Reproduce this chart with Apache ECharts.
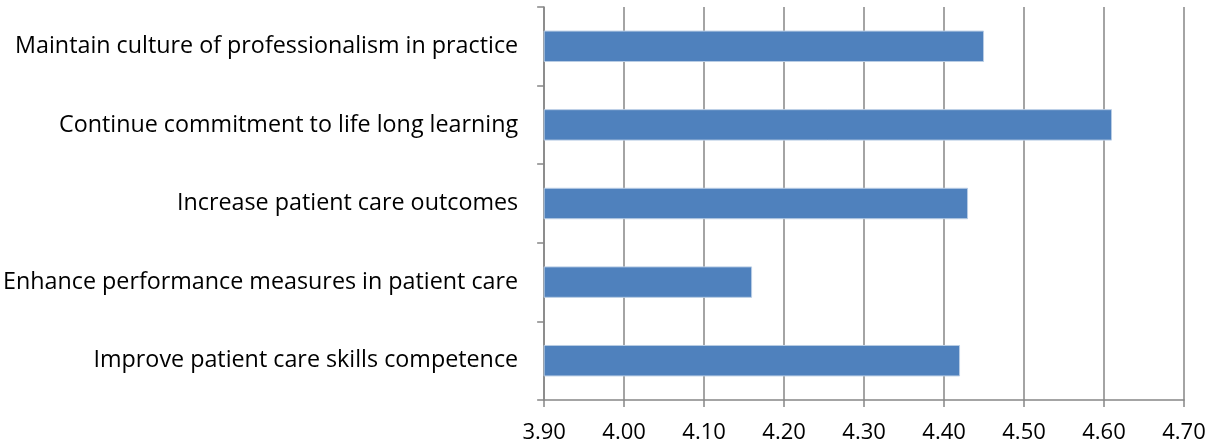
<!DOCTYPE html>
<html>
<head>
<meta charset="utf-8">
<script src="https://cdn.jsdelivr.net/npm/echarts@6/dist/echarts.min.js"></script>
<style>
  html, body { margin: 0; padding: 0; background: #ffffff; }
  #chart { width: 1215px; height: 447px; }
</style>
</head>
<body>
<div id="chart"></div>
<script>
// Goals listed top to bottom
const categories = [
  'Maintain culture of professionalism in practice',
  'Continue commitment to life long learning',
  'Increase patient care outcomes',
  'Enhance performance measures in patient care',
  'Improve patient care skills competence'
];
// Mean rating per goal
const meanScores = [4.45, 4.61, 4.43, 4.16, 4.42];
// Value axis range
const axisMin = 3.9;
const axisMax = 4.7;
const axisStep = 0.1;

const gray = '#868686';
const font = 'Open Sans';

const chart = echarts.init(document.getElementById('chart'), null, { renderer: 'canvas' });
chart.setOption({
  animation: false,
  grid: { left: 543, right: 31, top: 7, bottom: 47, containLabel: false },
  xAxis: {
    type: 'value',
    min: axisMin,
    max: axisMax,
    interval: axisStep,
    axisLine: { show: true, lineStyle: { color: gray, width: 1.5 } },
    axisTick: { show: true, length: 7, lineStyle: { color: gray, width: 1.5 } },
    splitLine: { show: true, lineStyle: { color: gray, width: 1.5 } },
    axisLabel: {
      margin: 22,
      color: '#000',
      fontFamily: font,
      fontSize: 22,
      formatter: v => v.toFixed(2)
    }
  },
  yAxis: {
    type: 'category',
    inverse: true,
    data: categories,
    axisLine: { show: true, lineStyle: { color: gray, width: 1.5 } },
    axisTick: { show: true, length: 7, lineStyle: { color: gray, width: 1.5 } },
    axisLabel: {
      margin: 26,
      color: '#000',
      fontFamily: font,
      fontSize: 23.3
    }
  },
  series: [{
    type: 'bar',
    data: meanScores,
    barCategoryGap: '60%',
    itemStyle: { color: '#4F81BD', borderColor: '#b9cde5', borderWidth: 1 }
  }]
});
</script>
</body>
</html>
